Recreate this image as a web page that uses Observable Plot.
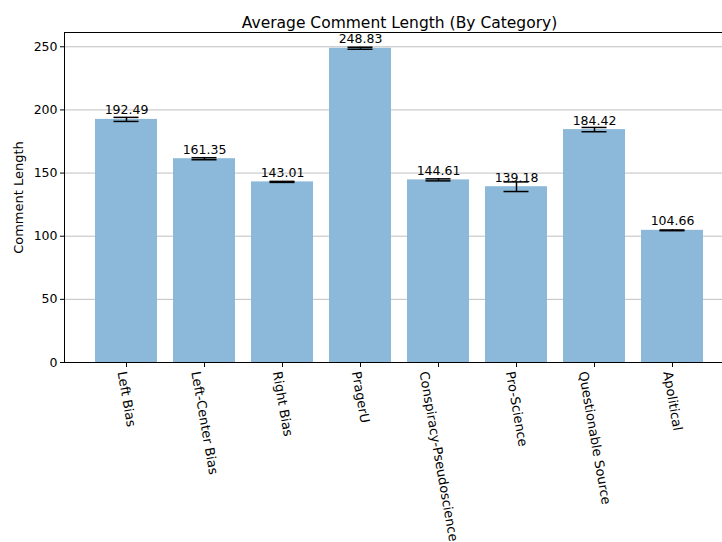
<!DOCTYPE html>
<html>
<head>
<meta charset="utf-8">
<script src="https://cdn.jsdelivr.net/npm/d3@7"></script>
<script src="https://cdn.jsdelivr.net/npm/@observablehq/plot@0.6"></script>
<style>
  html, body { margin: 0; padding: 0; background: white; overflow: hidden; }
  #chart svg { display: block; max-width: none !important; }
</style>
</head>
<body>
<div id="chart"></div>
<script>
const categories = ["Left Bias", "Left-Center Bias", "Right Bias", "PragerU", "Conspiracy-Pseudoscience", "Pro-Science", "Questionable Source", "Apolitical"];
const means = [192.49, 161.35, 143.01, 248.83, 144.61, 139.18, 184.42, 104.66];
const errors = [1.6, 0.8, 0.4, 0.8, 0.8, 3.8, 1.7, 0.3];
const yTicks = [0, 50, 100, 150, 200, 250];
const titleText = "Average Comment Length (By Category)";
const yLabel = "Comment Length";

const data = categories.map((c, i) => ({category: c, mean: means[i], err: errors[i]}));

const FONT = "DejaVu Sans";
const FS = 12.5;
const LFS = 13;
const ctx = document.createElement("canvas").getContext("2d");
ctx.font = `${LFS}px '${FONT}'`;
const rot = 80 * Math.PI / 180;

const labelMarks = categories.map(c => {
  const L = ctx.measureText(c).width;
  const extent = L * Math.sin(rot) + LFS * Math.cos(rot);
  return Plot.text([c], {x: d => d, y: () => 0, text: d => d, rotate: 80, textAnchor: "middle", lineAnchor: "middle", dy: 8 + extent / 2, fontSize: LFS, fill: "black"});
});

const chart = Plot.plot({
  width: 734,
  height: 542,
  marginLeft: 64,
  marginRight: 0,
  marginTop: 32,
  marginBottom: 180,
  style: {fontFamily: FONT, fontSize: `${FS}px`, color: "black", background: "white", maxWidth: "none"},
  x: {domain: categories, paddingInner: 0.2, paddingOuter: 0.39, axis: null},
  y: {domain: [0, 261.3], axis: null},
  marks: [
    Plot.ruleY(yTicks, {stroke: "#b0b0b0", strokeWidth: 0.8}),
    Plot.barY(data, {x: "category", y: "mean", fill: "#8cb9d9"}),
    Plot.ruleX(data, {x: "category", y1: d => d.mean - d.err, y2: d => d.mean + d.err, stroke: "black", strokeWidth: 1.5}),
    Plot.tickY(data, {x: "category", y: d => d.mean - d.err, inset: 18.5, stroke: "black", strokeWidth: 1.5}),
    Plot.tickY(data, {x: "category", y: d => d.mean + d.err, inset: 18.5, stroke: "black", strokeWidth: 1.5}),
    Plot.text(data, {x: "category", y: "mean", text: d => d.mean.toFixed(2), lineAnchor: "bottom", dy: -5, fontSize: FS, fill: "black"}),
    Plot.axisY({ticks: yTicks, tickSize: 4, tickPadding: 3, label: null, fontSize: FS, stroke: "black"}),
    Plot.axisX({tickSize: 5, tickFormat: () => "", label: null, stroke: "black"}),
    Plot.frame({stroke: "black", strokeWidth: 1}),
    ...labelMarks,
    Plot.text([titleText], {frameAnchor: "top", dy: -16, fontSize: 15.5, fill: "black"}),
    Plot.text([yLabel], {frameAnchor: "left", textAnchor: "middle", dx: -46, rotate: -90, fontSize: 13, fill: "black"})
  ]
});

document.getElementById("chart").appendChild(chart);
</script>
</body>
</html>
